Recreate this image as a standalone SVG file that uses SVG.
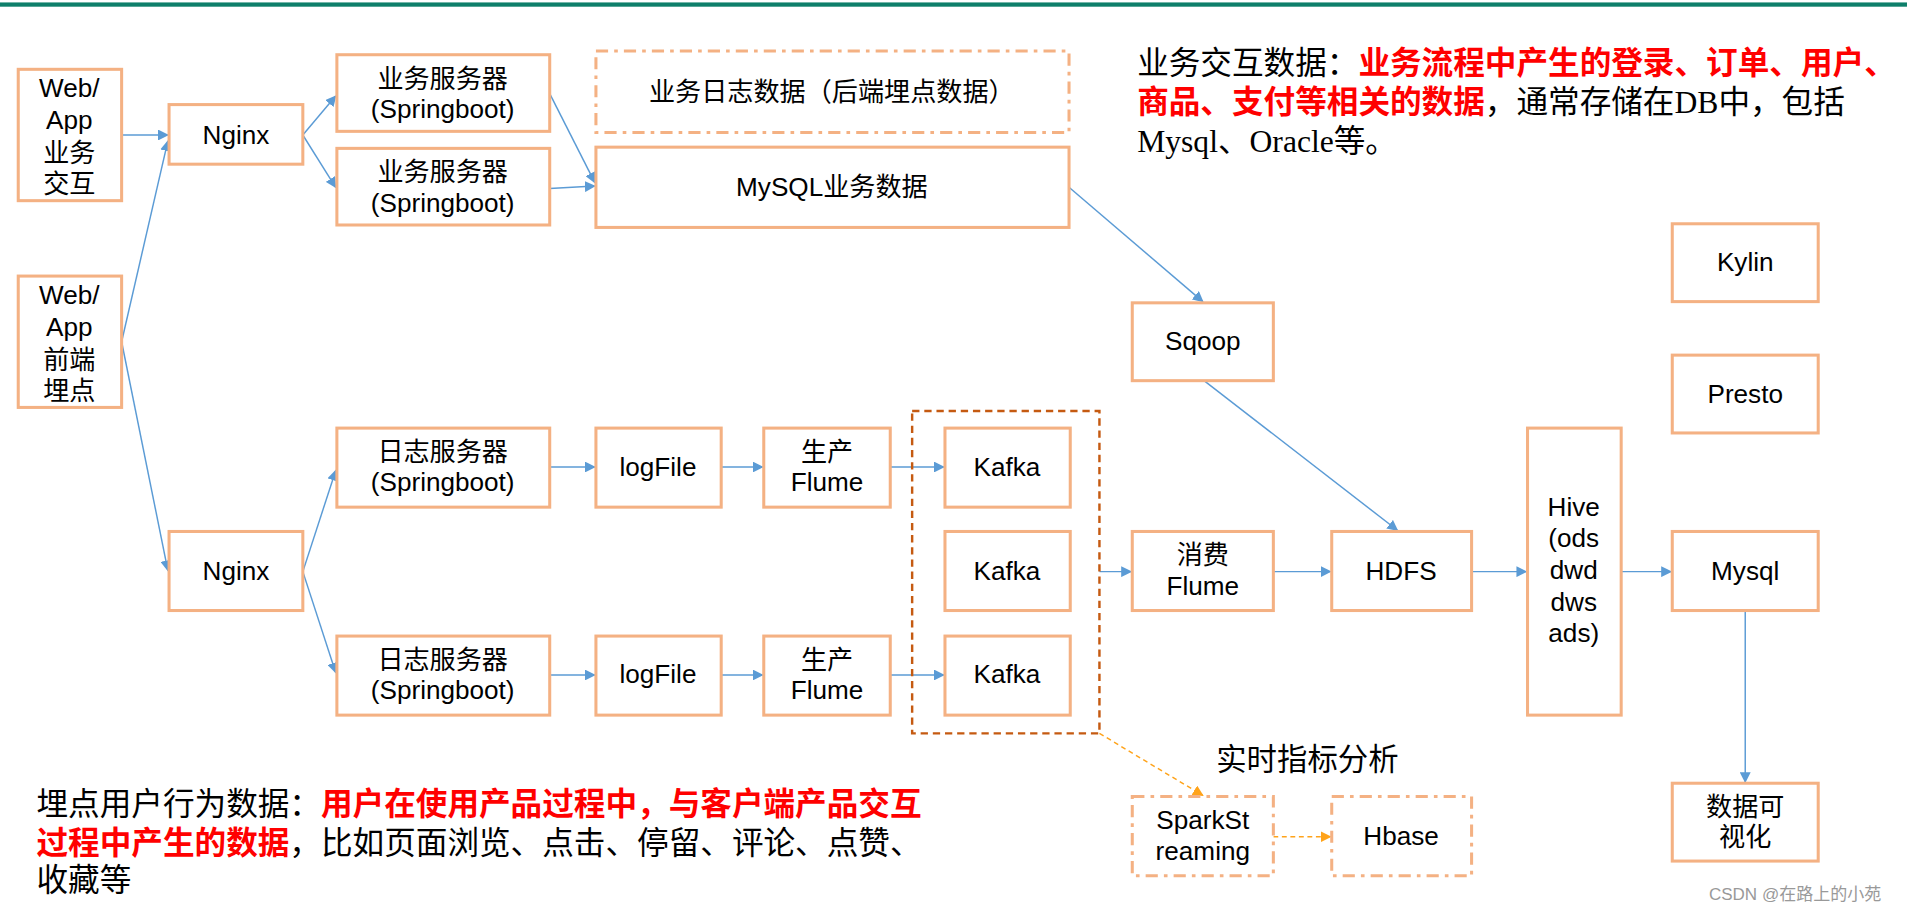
<svg xmlns="http://www.w3.org/2000/svg" width="1907" height="912" viewBox="0 0 1907 912">
<defs>
<marker id="a" viewBox="0 0 10 10" refX="9" refY="5" markerWidth="9" markerHeight="9" markerUnits="userSpaceOnUse" orient="auto"><path d="M0,0L10,5L0,10z" fill="#5b9bd5"/></marker>
<marker id="o" viewBox="0 0 10 10" refX="9" refY="5" markerWidth="9" markerHeight="9" markerUnits="userSpaceOnUse" orient="auto"><path d="M0,0L10,5L0,10z" fill="#ffa31a"/></marker>
</defs>
<style>
.b{fill:#fff;stroke:#f4b183;stroke-width:2.5}
.d{fill:#fff;stroke:#f4b183;stroke-width:2.5;stroke-dasharray:10 5 3 5}
text{font-family:"Liberation Sans","Noto Sans CJK SC",sans-serif;font-size:21.5px;fill:#000;text-anchor:middle}
.s{font-family:"Liberation Serif","Noto Sans CJK SC",serif;font-size:26px;text-anchor:start}
.r{fill:#ff0000;font-weight:bold}
.c line{stroke:#5b9bd5;stroke-width:1.2;marker-end:url(#a)}
</style>
<rect width="1907" height="912" fill="#fff"/>
<g transform="scale(1.21619)">
<rect x="0" y="2" width="1568" height="3.5" fill="#0e7f6a"/>
<g class="c">
<line x1="100" y1="111" x2="138" y2="111"/>
<line x1="100" y1="281" x2="138" y2="116"/>
<line x1="100" y1="281" x2="138" y2="469"/>
<line x1="249" y1="111" x2="276" y2="79"/>
<line x1="249" y1="111" x2="276" y2="154"/>
<line x1="452" y1="77" x2="489" y2="150"/>
<line x1="452" y1="155" x2="489" y2="153"/>
<line x1="879" y1="154" x2="989" y2="248"/>
<line x1="990" y1="313" x2="1149" y2="436"/>
<line x1="249" y1="470" x2="276" y2="387"/>
<line x1="249" y1="470" x2="276" y2="553"/>
<line x1="452" y1="384" x2="489" y2="384"/>
<line x1="593" y1="384" x2="627" y2="384"/>
<line x1="732" y1="384" x2="776" y2="384"/>
<line x1="452" y1="555" x2="489" y2="555"/>
<line x1="593" y1="555" x2="627" y2="555"/>
<line x1="732" y1="555" x2="776" y2="555"/>
<line x1="904" y1="470" x2="930" y2="470"/>
<line x1="1047" y1="470" x2="1094" y2="470"/>
<line x1="1210" y1="470" x2="1255" y2="470"/>
<line x1="1333" y1="470" x2="1374" y2="470"/>
<line x1="1435" y1="502" x2="1435" y2="643"/>
<line x1="904" y1="603" x2="989" y2="654" style="stroke:#ffa31a;stroke-dasharray:4 3;marker-end:url(#o)"/>
<line x1="1047" y1="688" x2="1094" y2="688" style="stroke:#ffa31a;stroke-dasharray:4 3;marker-end:url(#o)"/>
</g>
<rect x="750" y="338" width="154" height="265" fill="none" stroke="#c55a11" stroke-width="2" stroke-dasharray="6 4"/>
<g id="web1"><rect class="b" x="15" y="57" width="85" height="108"/><text x="57" y="80">Web/</text><text x="57" y="106">App</text><text x="57" y="133">业务</text><text x="57" y="159">交互</text></g>
<g id="web2"><rect class="b" x="15" y="227" width="85" height="108"/><text x="57" y="250">Web/</text><text x="57" y="276">App</text><text x="57" y="303">前端</text><text x="57" y="329">埋点</text></g>
<g id="nginx1"><rect class="b" x="139" y="86" width="110" height="49"/><text x="194" y="118">Nginx</text></g>
<g id="nginx2"><rect class="b" x="139" y="437" width="110" height="65"/><text x="194" y="477">Nginx</text></g>
<g id="biz1"><rect class="b" x="277" y="45" width="175" height="63"/><text x="364" y="72">业务服务器</text><text x="364" y="97">(Springboot)</text></g>
<g id="biz2"><rect class="b" x="277" y="122" width="175" height="63"/><text x="364" y="149">业务服务器</text><text x="364" y="174">(Springboot)</text></g>
<g id="bizlog"><rect class="d" x="490" y="42" width="389" height="67"/><text x="684" y="83">业务日志数据（后端埋点数据）</text></g>
<g id="mysqlbiz"><rect class="b" x="490" y="121" width="389" height="66"/><text x="684" y="161">MySQL业务数据</text></g>
<g id="sqoop"><rect class="b" x="931" y="249" width="116" height="64"/><text x="989" y="288">Sqoop</text></g>
<g id="log1"><rect class="b" x="277" y="352" width="175" height="65"/><text x="364" y="379">日志服务器</text><text x="364" y="404">(Springboot)</text></g>
<g id="log2"><rect class="b" x="277" y="523" width="175" height="65"/><text x="364" y="550">日志服务器</text><text x="364" y="575">(Springboot)</text></g>
<g id="lf1"><rect class="b" x="490" y="352" width="103" height="65"/><text x="541" y="391">logFile</text></g>
<g id="lf2"><rect class="b" x="490" y="523" width="103" height="65"/><text x="541" y="562">logFile</text></g>
<g id="fl1"><rect class="b" x="628" y="352" width="104" height="65"/><text x="680" y="379">生产</text><text x="680" y="404">Flume</text></g>
<g id="fl2"><rect class="b" x="628" y="523" width="104" height="65"/><text x="680" y="550">生产</text><text x="680" y="575">Flume</text></g>
<g id="k1"><rect class="b" x="777" y="352" width="103" height="65"/><text x="828" y="391">Kafka</text></g>
<g id="k2"><rect class="b" x="777" y="437" width="103" height="65"/><text x="828" y="477">Kafka</text></g>
<g id="k3"><rect class="b" x="777" y="523" width="103" height="65"/><text x="828" y="562">Kafka</text></g>
<g id="cflume"><rect class="b" x="931" y="437" width="116" height="65"/><text x="989" y="464">消费</text><text x="989" y="489">Flume</text></g>
<g id="hdfs"><rect class="b" x="1095" y="437" width="115" height="65"/><text x="1152" y="477">HDFS</text></g>
<g id="hive"><rect class="b" x="1256" y="352" width="77" height="236"/><text x="1294" y="424">Hive</text><text x="1294" y="450">(ods</text><text x="1294" y="476">dwd</text><text x="1294" y="502">dws</text><text x="1294" y="528">ads)</text></g>
<g id="mysql"><rect class="b" x="1375" y="437" width="120" height="65"/><text x="1435" y="477">Mysql</text></g>
<g id="kylin"><rect class="b" x="1375" y="184" width="120" height="64"/><text x="1435" y="223">Kylin</text></g>
<g id="presto"><rect class="b" x="1375" y="292" width="120" height="64"/><text x="1435" y="331">Presto</text></g>
<g id="vis"><rect class="b" x="1375" y="644" width="120" height="64"/><text x="1435" y="671">数据可</text><text x="1435" y="696">视化</text></g>
<g id="spark"><rect class="d" x="931" y="655" width="116" height="65"/><text x="989" y="682">SparkSt</text><text x="989" y="707">reaming</text></g>
<g id="hbase"><rect class="d" x="1095" y="655" width="115" height="65"/><text x="1152" y="695">Hbase</text></g>
<text x="1075" y="633" style="font-size:25px">实时指标分析</text>
<text class="s" x="935" y="61">业务交互数据：<tspan class="r">业务流程中产生的登录、订单、用户、</tspan></text>
<text class="s" x="935" y="93"><tspan class="r">商品、支付等相关的数据</tspan>，通常存储在DB中，包括</text>
<text class="s" x="935" y="125">Mysql、Oracle等。</text>
<text class="s" x="30" y="670">埋点用户行为数据：<tspan class="r">用户在使用产品过程中，与客户端产品交互</tspan></text>
<text class="s" x="30" y="702"><tspan class="r">过程中产生的数据</tspan>，比如页面浏览、点击、停留、评论、点赞、</text>
<text class="s" x="30" y="733">收藏等</text>
<text x="1476" y="740" style="font-size:14px;fill:#999">CSDN @在路上的小苑</text>
</g>
</svg>
